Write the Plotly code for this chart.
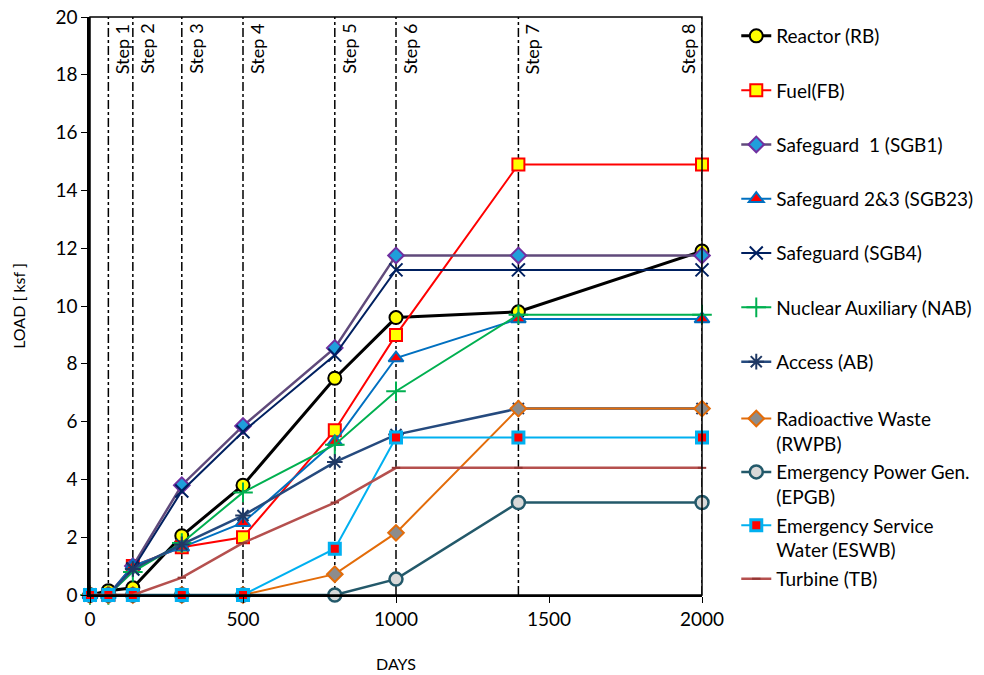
import plotly.graph_objects as go

days = [0, 60, 140, 300, 500, 800, 1000, 1400, 2000]

reactor = [0, 0.15, 0.25, 2.05, 3.8, 7.5, 9.6, 9.8, 11.9]
fuel = [0, 0, 1.0, 1.65, 2.0, 5.7, 9.0, 14.9, 14.9]
sgb1 = [0, 0, 1.0, 3.8, 5.85, 8.55, 11.75, 11.75, 11.75]
sgb23 = [0, 0, 1.0, 1.65, 2.5, 5.3, 8.2, 9.55, 9.55]
sgb4 = [0, 0, 0.9, 3.6, 5.65, 8.3, 11.25, 11.25, 11.25]
nab = [0, 0, 0.8, 1.8, 3.55, 5.2, 7.05, 9.7, 9.7]
ab = [0, 0, 0.9, 1.75, 2.75, 4.6, 5.55, 6.45, 6.45]
rwpb = [0, 0, 0, 0, 0, 0.72, 2.15, 6.45, 6.45]
epgb = [0, 0, 0, 0, 0, 0, 0.55, 3.2, 3.2]
eswb = [0, 0, 0, 0, 0, 1.6, 5.45, 5.45, 5.45]
tb = [0, 0, 0, 0.6, 1.8, 3.2, 4.4, 4.4, 4.4]

steps = [60, 140, 300, 500, 800, 1000, 1400, 2000]
step_labels = ["Step 1", "Step 2", "Step 3", "Step 4", "Step 5", "Step 6", "Step 7", "Step 8"]

FONT = "Lato"

series = [
    ("Reactor (RB)", reactor, "black", 3, dict(symbol="circle", size=13, color="#FFFF00", line=dict(color="black", width=2)), "legend"),
    ("Fuel(FB)", fuel, "#FF0000", 2, dict(symbol="square", size=12, color="#FFFF00", line=dict(color="#FF0000", width=2)), "legend"),
    ("Safeguard  1 (SGB1)", sgb1, "#604A7B", 2.5, dict(symbol="diamond", size=12, color="#1F9FDB", line=dict(color="#7030A0", width=2)), "legend"),
    ("Safeguard 2&3 (SGB23)", sgb23, "#0070C0", 2, dict(symbol="triangle-up", size=13, color="#FF0000", line=dict(color="#0070C0", width=2)), "legend"),
    ("Safeguard (SGB4)", sgb4, "#002060", 2, dict(symbol="x-thin-open", size=13, color="#002060", line=dict(color="#002060", width=2)), "legend"),
    ("Nuclear Auxiliary (NAB)", nab, "#00B050", 2, dict(symbol="cross-thin-open", size=14, color="#00B050", line=dict(color="#00B050", width=2)), "legend"),
    ("Access (AB)", ab, "#254A7E", 2.5, dict(symbol="asterisk-open", size=13, color="#1F3864", line=dict(color="#1F3864", width=2)), "legend"),
    ("Radioactive Waste<br>(RWPB)", rwpb, "#E36C09", 2, dict(symbol="diamond", size=12, color="#8C8C8C", line=dict(color="#E36C09", width=2)), "legend2"),
    ("Emergency Power Gen.<br>(EPGB)", epgb, "#23596A", 2.5, dict(symbol="circle", size=13, color="#D9D9D9", line=dict(color="#23596A", width=2.5)), "legend2"),
    ("Emergency Service<br>Water (ESWB)", eswb, "#00B0F0", 2, dict(symbol="square", size=11, color="#FF0000", line=dict(color="#00B0F0", width=3)), "legend2"),
    ("Turbine (TB)", tb, "#B5504E", 2.5, dict(symbol="line-ew", size=6, color="#943634", line=dict(color="#943634", width=2)), "legend2"),
]

fig = go.Figure()
for i, (name, ys, lc, lw, mk, lg) in enumerate(series):
    fig.add_trace(go.Scatter(
        x=days, y=ys, name=name, mode="lines+markers",
        line=dict(color=lc, width=lw), marker=mk,
        cliponaxis=False, legend=lg, legendgroup="g%d" % i,
    ))

shapes = []
for s in steps:
    shapes.append(dict(type="line", xref="x", yref="paper", x0=s, x1=s, y0=0, y1=1,
                       line=dict(color="black", width=1.5, dash="dashdot"), layer="below"))
shapes.append(dict(type="rect", xref="paper", yref="paper", x0=0, x1=1, y0=0, y1=1,
                   line=dict(color="black", width=1.5)))

annotations = []
for s, lab in zip(steps, step_labels):
    last = s == steps[-1]
    annotations.append(dict(
        x=s, xref="x", y=1, yref="paper", text=lab, showarrow=False, textangle=-90,
        xanchor="right" if last else "left", yanchor="top",
        xshift=-1 if last else 1, yshift=-5,
        font=dict(family=FONT, size=18, color="black"),
    ))

fig.update_layout(
    width=984, height=675,
    margin=dict(l=90, r=282, t=17, b=80, autoexpand=False),
    paper_bgcolor="white", plot_bgcolor="white",
    font=dict(family=FONT, color="black"),
    shapes=shapes, annotations=annotations,
    legend=dict(x=1.056, xanchor="left", y=1.0, yanchor="top", font=dict(family=FONT, size=19),
                tracegroupgap=26.6, bgcolor="rgba(0,0,0,0)", valign="top"),
    legend2=dict(x=1.056, xanchor="left", y=0.338, yanchor="top", font=dict(family=FONT, size=19),
                 tracegroupgap=1, bgcolor="rgba(0,0,0,0)", valign="top"),
)
fig.update_xaxes(range=[0, 2000], tickvals=[0, 500, 1000, 1500, 2000], showgrid=False, zeroline=False,
                 showline=True, linecolor="black", linewidth=2, ticks="outside", ticklen=6,
                 tickcolor="black", tickfont=dict(family=FONT, size=19), ticklabeloverflow="allow",
                 title=dict(text="DAYS", font=dict(family=FONT, size=16), standoff=30))
fig.update_yaxes(range=[0, 20], dtick=2, showgrid=False, zeroline=False,
                 showline=True, linecolor="black", linewidth=2.5, ticks="outside", ticklen=6,
                 tickcolor="black", tickfont=dict(family=FONT, size=19), ticklabeloverflow="allow",
                 title=dict(text="LOAD [ ksf ]", font=dict(family=FONT, size=16), standoff=26))

fig.write_html("out.html", config={"displayModeBar": False},
               post_script="document.body.style.margin='0';")
